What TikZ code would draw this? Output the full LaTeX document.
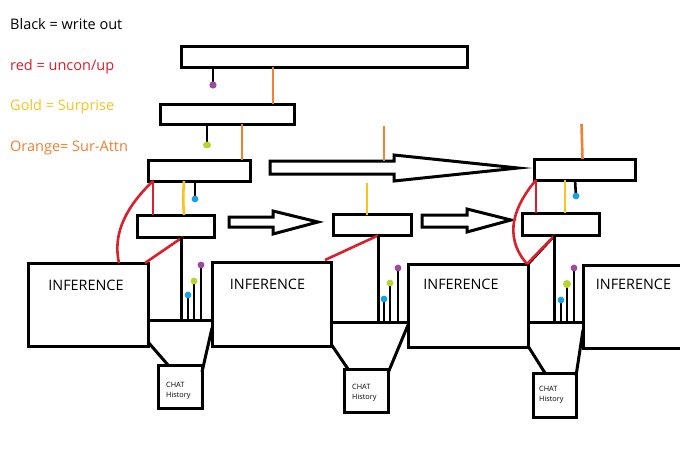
\documentclass[tikz,border=0pt]{standalone}
\usepackage{fontspec}
\setmainfont{Open Sans}
\definecolor{myred}{RGB}{218,32,42}
\definecolor{mygold}{RGB}{248,196,30}
\definecolor{myorange}{RGB}{240,128,50}
\definecolor{mypurple}{RGB}{158,72,160}
\definecolor{mygreen}{RGB}{182,212,50}
\definecolor{myblue}{RGB}{24,160,230}
\tikzset{
  box/.style={draw, rectangle, line width=3pt, inner sep=0pt, outer sep=0pt},
  blk/.style={draw=black, line width=3pt},
  thinblk/.style={draw=black, line width=2.6pt},
  redl/.style={draw=myred, line width=2.6pt},
  goldl/.style={draw=mygold, line width=2.6pt},
  orgl/.style={draw=myorange, line width=2.6pt},
  bigarrow/.style={draw=black, line width=3pt, line join=miter, fill=white},
  legend/.style={anchor=base west, inner sep=0pt, font=\fontsize{14.5}{17}\selectfont},
  inftext/.style={anchor=base, inner sep=0pt, font=\fontsize{14.4}{16}\selectfont},
  chattext/.style={anchor=base west, inner sep=0pt, font=\fontsize{7.3}{9}\selectfont},
  dotp/.style={fill=mypurple},
  dotg/.style={fill=mygreen},
  dotb/.style={fill=myblue}
}
\begin{document}
\begin{tikzpicture}[x=1pt,y=-1pt]
\useasboundingbox (0,0) rectangle (680,453);
\fill[white] (0,0) rectangle (680,453);
\clip (0,0) rectangle (680,453);

% legend
\node[legend, text=black] (lg1) at (10,29) {Black = write out};
\node[legend, text=myred] (lg2) at (10,70) {red = uncon/up};
\node[legend, text=mygold] (lg3) at (10,110) {Gold = Surprise};
\node[legend, text=myorange] (lg4) at (10,151) {Orange= Sur-Attn};

% boxes
\node[box, minimum width=286pt, minimum height=21pt] (t1) at (324,56.5) {};
\node[box, minimum width=134pt, minimum height=20pt] (t2) at (227,114) {};
\node[box, minimum width=102pt, minimum height=21pt] (l3) at (199,170.5) {};
\node[box, minimum width=77pt, minimum height=22pt] (l4) at (175.5,226) {};
\node[box, minimum width=78pt, minimum height=21pt] (m4) at (372,225) {};
\node[box, minimum width=101pt, minimum height=21pt] (r3) at (584.5,169.5) {};
\node[box, minimum width=77pt, minimum height=22pt] (r4) at (560.5,224) {};

\node[box, minimum width=120pt, minimum height=83pt] (i1) at (88,304.5) {};
\node[box, minimum width=119pt, minimum height=84pt] (i2) at (271.5,304) {};
\node[box, minimum width=120pt, minimum height=83pt] (i3) at (468,305.5) {};
\node[box, minimum width=117pt, minimum height=83pt] (i4) at (641.5,306.5) {};

\node[box, minimum width=44pt, minimum height=43pt] (c1) at (180,386.5) {};
\node[box, minimum width=44pt, minimum height=43pt] (c2) at (366,390.5) {};
\node[box, minimum width=43pt, minimum height=44pt] (c3) at (554.5,395) {};

% texts
\node[inftext] (i1t) at (86,290) {INFERENCE};
\node[inftext] (i2t) at (267.5,289) {INFERENCE};
\node[inftext] (i3t) at (461,289) {INFERENCE};
\node[inftext] (i4t) at (633.5,289) {INFERENCE};
\node[chattext] (c1a) at (166,387) {CHAT};
\node[chattext] (c1b) at (166,397.5) {History};
\node[chattext] (c2a) at (352,389) {CHAT};
\node[chattext] (c2b) at (352,399.5) {History};
\node[chattext] (c3a) at (539,391) {CHAT};
\node[chattext] (c3b) at (539,401.5) {History};

% hollow arrows
\draw[bigarrow] (270,161) coordinate (ba1) -- (394,161) coordinate (bat) -- (394,155) -- (518,168) coordinate (batip) -- (394,181) -- (394,174) -- (270,174) -- cycle;
\draw[bigarrow] (229,217) coordinate (a1s) -- (273,217) -- (273,211) -- (318,222) coordinate (a1tip) -- (273,234) -- (273,227) -- (229,227) -- cycle;
\draw[bigarrow] (422,215) coordinate (a2s) -- (467,215) -- (467,209) -- (511,220) coordinate (a2tip) -- (467,232) -- (467,227) -- (422,227) -- cycle;

% coordinates for free ends
\coordinate (pd1) at (213,85);
\coordinate (gd1) at (207,145);
\coordinate (bd1) at (195,199);
\coordinate (bd2) at (576,196);
\coordinate (o3top) at (384,126);
\coordinate (o3bot) at (384,161);
\coordinate (g2top) at (367,183);
\coordinate (o4top) at (581.5,124);

% orange lines
\draw[orgl] (t1.south -| 273,0) -- (t2.north -| 273,0);
\draw[orgl] (t2.south -| 242,0) -- (l3.north -| 242,0);
\draw[orgl] (o3top) -- (o3bot);
\draw[orgl] (o4top) -- (r3.north -| 582.5,0);

% gold lines
\draw[goldl] (l3.south -| 184,0) .. controls (183,195) and (183,203) .. (l4.north -| 184,0);
\draw[goldl] (g2top) -- (m4.north -| 367,0);
\draw[goldl] (r3.south -| 565,0) -- (r4.north -| 565,0);

% black stalks with dots
\draw[thinblk] (t1.south -| pd1) -- (pd1);
\fill[dotp] (pd1) circle (3.6pt);
\draw[thinblk] (t2.south -| gd1) -- (gd1);
\fill[dotg] (gd1) ellipse (4pt and 3.4pt);
\draw[thinblk] (l3.south -| bd1) -- (bd1);
\fill[dotb] (bd1) circle (3.4pt);
\draw[thinblk] (r3.south -| 575,0) -- (bd2);
\fill[dotb] (bd2) circle (3.4pt);

% red lines
\draw[redl] (l3.south -| 153,0) -- (l4.north -| 153,0);
\draw[redl] (l3.south -| 153,0) .. controls (128,205) and (112,232) .. (i1.north -| 119,0);
\draw[redl] (i1.north -| 145,0) -- (l4.south -| 183,0);
\draw[redl] (325,260) -- (m4.south -| 378,0);
\draw[redl] (r3.south -| 536,0) -- (r4.north -| 536,0);
\draw[redl] (r3.south -| 536,0) .. controls (515,205) and (502,235) .. (i3.north -| 527,0);
\draw[blk, line width=1.5pt] (i3.north -| 529,0) -- (r4.south -| 556,0);
\draw[redl] (i3.north -| 527,0) -- (r4.south -| 555,0);

% hub 1
\coordinate (h1) at (181,320);
\draw[blk] (l4.south -| h1) -- (h1);
\draw[blk] (i1.east |- 0,320) -- (i2.west |- 0,320);
\coordinate (h1b) at (188,295);
\coordinate (h1g) at (194,281);
\coordinate (h1p) at (201,265);
\draw[thinblk] (h1b |- 0,320) -- (h1b);
\draw[thinblk] (h1g |- 0,320) -- (h1g);
\draw[thinblk] (h1p |- 0,320) -- (h1p);
\fill[dotb] (h1b) circle (3.4pt);
\fill[dotg] (h1g) circle (3.4pt);
\fill[dotp] (h1p) circle (3.4pt);

% hub 2
\coordinate (h2) at (378,322);
\draw[blk] (m4.south -| h2) -- (h2);
\draw[blk] (i2.east |- 0,322) -- (i3.west |- 0,322);
\coordinate (h2b) at (384,299);
\coordinate (h2g) at (390,283);
\coordinate (h2p) at (398,268);
\draw[thinblk] (h2b |- 0,322) -- (h2b);
\draw[thinblk] (h2g |- 0,322) -- (h2g);
\draw[thinblk] (h2p |- 0,322) -- (h2p);
\fill[dotb] (h2b) circle (3.4pt);
\fill[dotg] (h2g) circle (3.4pt);
\fill[dotp] (h2p) circle (3.4pt);

% hub 3
\coordinate (h3) at (554,323);
\draw[blk] (r4.south -| h3) -- (h3);
\draw[blk] (i3.east |- 0,322) -- (i4.west |- 0,322);
\coordinate (h3b) at (561,300);
\coordinate (h3g) at (567,284);
\coordinate (h3p) at (574,268);
\draw[thinblk] (h3b |- 0,322) -- (h3b);
\draw[thinblk] (h3g |- 0,322) -- (h3g);
\draw[thinblk] (h3p |- 0,322) -- (h3p);
\fill[dotb] (h3b) circle (3.4pt);
\fill[dotg] (h3g) circle (4pt);
\fill[dotp] (h3p) circle (3.4pt);

% funnels
\draw[blk] (i1.east |- 0,342) -- (c1.north -| 168,0);
\draw[blk] (i2.west |- 0,328) -- (c1.east |- 0,372);
\draw[blk] (i2.east |- 0,344) -- (c2.north -| 348,0);
\draw[blk] (i3.west |- 0,325) -- (c2.east |- 0,373);
\draw[blk] (i3.east |- 0,346) -- (c3.north -| 545,0);
\draw[blk] (i4.west |- 0,330) -- (c3.east |- 0,376);
\end{tikzpicture}
\end{document}
